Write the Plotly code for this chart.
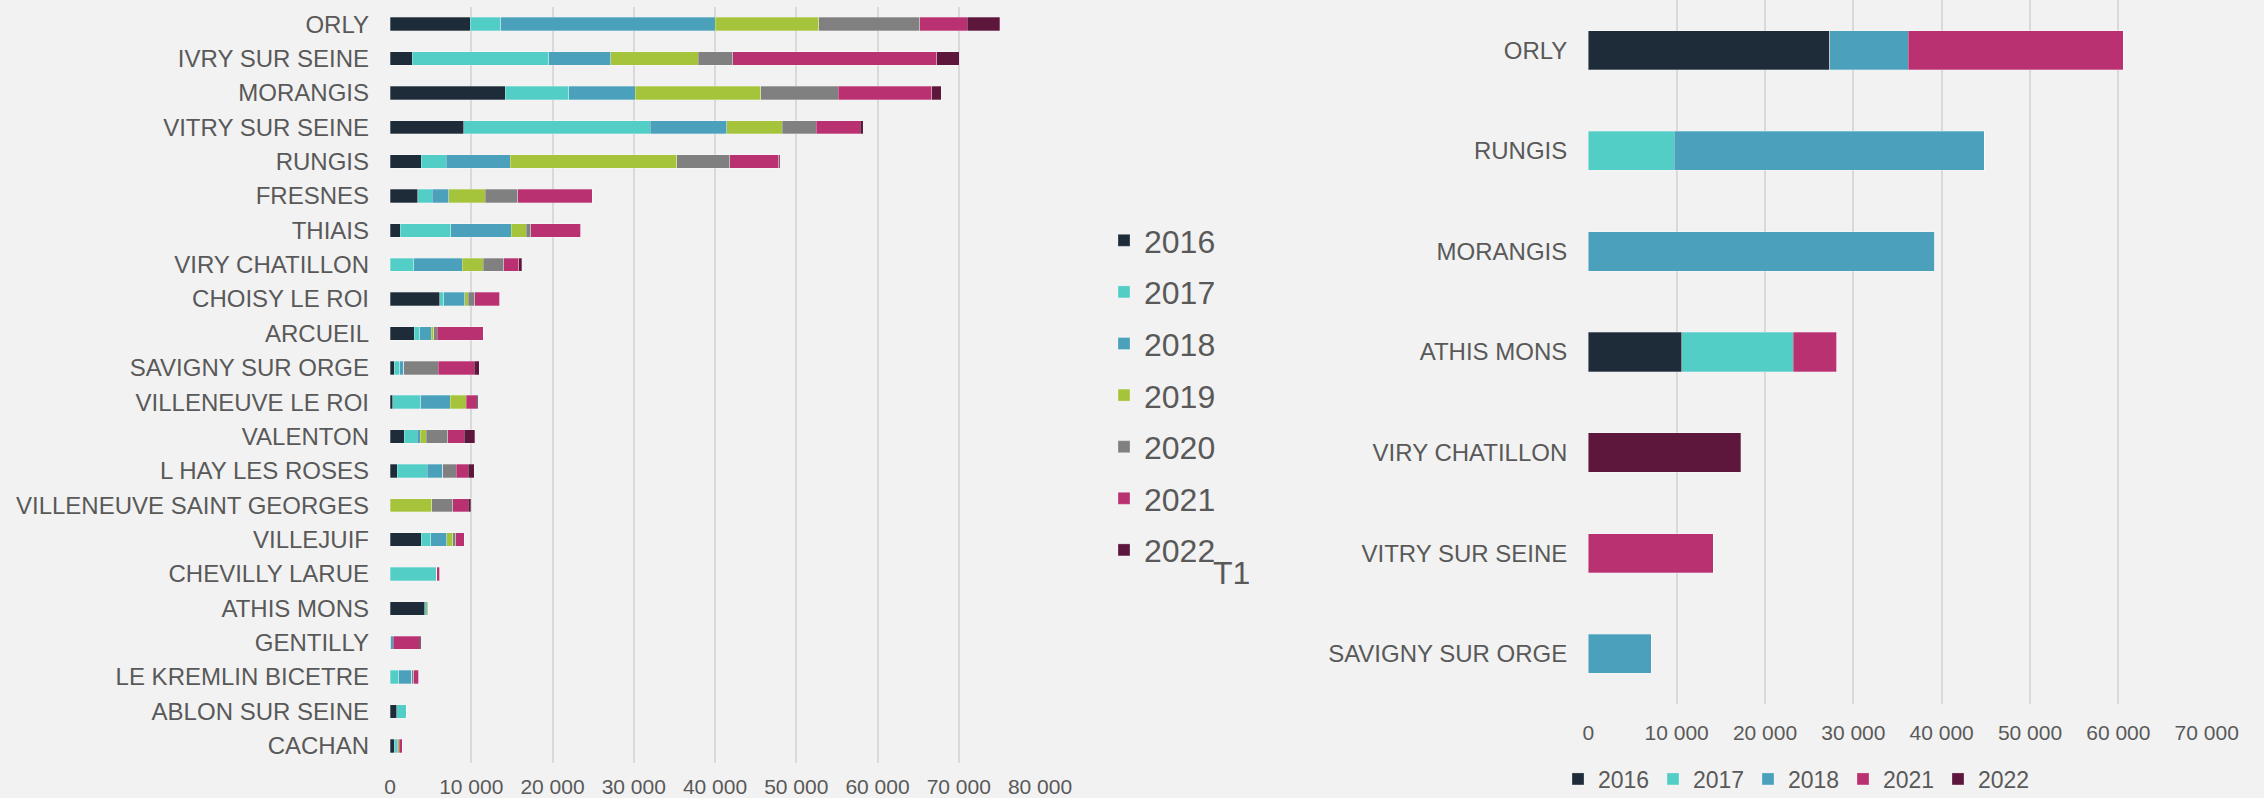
import plotly.graph_objects as go

# ---------------- Data ----------------
years = ["2016", "2017", "2018", "2019", "2020", "2021", "2022"]
colors = {"2016": "#1e2b38", "2017": "#53cec6", "2018": "#4ba1bc", "2019": "#a6c43b",
          "2020": "#808080", "2021": "#ba3172", "2022": "#5d173c"}

left_cats = ["ORLY", "IVRY SUR SEINE", "MORANGIS", "VITRY SUR SEINE", "RUNGIS", "FRESNES",
             "THIAIS", "VIRY CHATILLON", "CHOISY LE ROI", "ARCUEIL", "SAVIGNY SUR ORGE",
             "VILLENEUVE LE ROI", "VALENTON", "L HAY LES ROSES", "VILLENEUVE SAINT GEORGES",
             "VILLEJUIF", "CHEVILLY LARUE", "ATHIS MONS", "GENTILLY", "LE KREMLIN BICETRE",
             "ABLON SUR SEINE", "CACHAN"]
left_2016 = [9900, 2750, 14200, 9050, 3850, 3410, 1260, 0, 6150, 2970, 550, 330, 1760, 880, 0, 3850, 0, 4290, 0, 0, 820, 550]
left_2017 = [3760, 16800, 7770, 23000, 3080, 1810, 6210, 2910, 440, 710, 660, 3460, 1590, 3680, 0, 1150, 5770, 160, 100, 1100, 1210, 220]
left_2018 = [26400, 7600, 8200, 9400, 7860, 1980, 7470, 5990, 2640, 1370, 490, 3630, 380, 1920, 0, 1980, 0, 160, 280, 1590, 0, 160]
left_2019 = [12690, 10770, 15490, 6810, 20490, 4510, 1810, 2580, 380, 330, 0, 1980, 710, 0, 5110, 770, 0, 160, 0, 0, 0, 220]
left_2020 = [12470, 4290, 9510, 4180, 6540, 4010, 550, 2530, 820, 440, 4230, 0, 2640, 1700, 2640, 330, 0, 0, 0, 220, 0, 0]
left_2021 = [5820, 25110, 11480, 5440, 6040, 9180, 6150, 1810, 3080, 5660, 4450, 1210, 2030, 1430, 1870, 1040, 380, 0, 3190, 600, 0, 380]
left_2022 = [4010, 2750, 1210, 380, 100, 0, 0, 380, 0, 0, 600, 220, 1320, 770, 330, 0, 0, 0, 220, 0, 0, 0]
left_values = {"2016": left_2016, "2017": left_2017, "2018": left_2018, "2019": left_2019,
               "2020": left_2020, "2021": left_2021, "2022": left_2022}

right_cats = ["ORLY", "RUNGIS", "MORANGIS", "ATHIS MONS", "VIRY CHATILLON",
              "VITRY SUR SEINE", "SAVIGNY SUR ORGE"]
right_years = ["2016", "2017", "2018", "2021", "2022"]
right_2016 = [27350, 0, 0, 10580, 0, 0, 0]
right_2017 = [0, 9740, 0, 12600, 0, 0, 0]
right_2018 = [8850, 35100, 39220, 0, 0, 0, 7100]
right_2021 = [24350, 0, 0, 4940, 0, 14130, 0]
right_2022 = [0, 0, 0, 0, 17260, 0, 0]
right_values = {"2016": right_2016, "2017": right_2017, "2018": right_2018,
                "2021": right_2021, "2022": right_2022}

left_ticks = [0, 10000, 20000, 30000, 40000, 50000, 60000, 70000, 80000]
right_ticks = [0, 10000, 20000, 30000, 40000, 50000, 60000, 70000]

W, H = 2264, 798
TXT = "#595959"
FONT = "Liberation Sans, Arial, sans-serif"
GRID = "#d9d9d9"

fig = go.Figure()

for y in years:
    fig.add_trace(go.Bar(
        y=left_cats, x=left_values[y], name=y, orientation="h",
        marker=dict(color=colors[y], line=dict(width=0.8, color="rgba(255,255,255,0.35)")),
        xaxis="x", yaxis="y", legend="legend", legendgroup="L" + y,
    ))

for y in right_years:
    fig.add_trace(go.Bar(
        y=right_cats, x=right_values[y], name=y, orientation="h",
        marker=dict(color=colors[y], line=dict(width=0.8, color="rgba(255,255,255,0.35)")),
        xaxis="x2", yaxis="y2", legend="legend2", legendgroup="R" + y,
    ))

def px_x(v):
    return v / W

def px_y(v):  # v = pixels from top
    return 1 - v / H

fig.update_layout(
    width=W, height=H,
    margin=dict(l=0, r=0, t=0, b=0, autoexpand=False),
    paper_bgcolor="#f2f2f2", plot_bgcolor="#f2f2f2",
    barmode="stack", bargap=0.61,
    separators=", ",
    font=dict(family=FONT, color=TXT, size=21),
    xaxis=dict(domain=[px_x(390), px_x(1040)], range=[0, 80000], tickvals=left_ticks,
               tickformat=",d", showgrid=True, gridcolor=GRID, gridwidth=2, zeroline=False,
               showline=False, ticks="", tickfont=dict(size=21, color=TXT), anchor="y",
               ticklabelstandoff=9, automargin=False),
    yaxis=dict(domain=[px_y(763), px_y(7)], categoryorder="array", categoryarray=left_cats,
               autorange="reversed", showgrid=False, zeroline=False, showline=False, ticks="",
               tickfont=dict(size=24, color=TXT), anchor="x", ticklabelstandoff=20,
               automargin=False),
    xaxis2=dict(domain=[px_x(1588.3), px_x(2206.7)], range=[0, 70000], tickvals=right_ticks,
                tickformat=",d", showgrid=True, gridcolor=GRID, gridwidth=2, zeroline=False,
                showline=False, ticks="", tickfont=dict(size=21, color=TXT), anchor="y2",
                ticklabelstandoff=14, automargin=False),
    yaxis2=dict(domain=[px_y(704), px_y(0)], categoryorder="array", categoryarray=right_cats,
                autorange="reversed", showgrid=False, zeroline=False, showline=False, ticks="",
                tickfont=dict(size=24, color=TXT), anchor="x2", ticklabelstandoff=20,
                automargin=False),
    legend=dict(x=px_x(1104), xanchor="left", y=px_y(213), yanchor="top",
                font=dict(size=32, color=TXT), bgcolor="rgba(0,0,0,0)",
                traceorder="grouped", tracegroupgap=7, orientation="v"),
    legend2=dict(x=px_x(1558), xanchor="left", y=px_y(779), yanchor="middle",
                 font=dict(size=23, color=TXT), bgcolor="rgba(0,0,0,0)",
                 orientation="h", traceorder="normal", entrywidth=50, entrywidthmode="pixels"),
    annotations=[dict(text="T1", x=px_x(1231), y=px_y(573), xref="paper", yref="paper",
                      showarrow=False, font=dict(size=32, color=TXT), xanchor="center",
                      yanchor="middle")],
    showlegend=True,
)

fig.write_html(
    "out.html",
    config={"displayModeBar": False},
    post_script="document.body.style.margin='0px';document.body.style.overflow='hidden';",
)
